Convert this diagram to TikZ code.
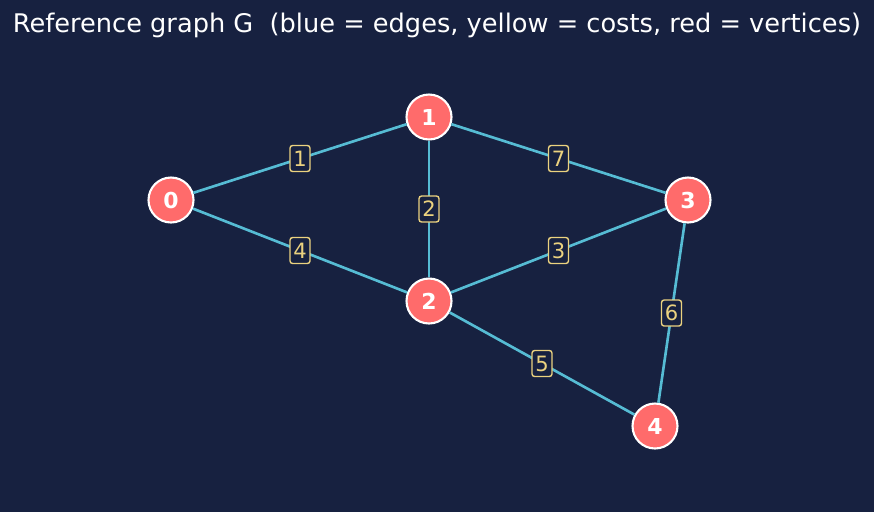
\documentclass[tikz,border=0pt]{standalone}
\usepackage{fontspec}
\setmainfont{DejaVu Sans}
\usepackage{xcolor}
\usepackage{tikz}
\definecolor{bgnavy}{HTML}{172140}
\definecolor{edgeblue}{HTML}{56BCD4}
\definecolor{vertred}{HTML}{FF6B6B}
\definecolor{costyellow}{HTML}{EBD27F}

\begin{document}
\begin{tikzpicture}[x=0.02cm, y=-0.02cm,
  vertex/.style={circle, fill=vertred, draw=white, line width=1.2pt,
    minimum size=0.9cm, inner sep=0pt, text=white, font=\fontsize{12.5}{14}\selectfont\bfseries},
  edge/.style={draw=edgeblue, line width=1.5pt},
  cost/.style={draw=costyellow, fill=bgnavy, text=costyellow, rounded corners=1.5pt,
    line width=0.8pt, inner sep=1.5pt, minimum height=0.52cm, minimum width=0.4cm,
    font=\fontsize{12}{14}\selectfont}]

% fundo
\fill[bgnavy] (0,0) rectangle (874,512);
\useasboundingbox (0,0) rectangle (874,512);

\node[text=white, font=\fontsize{14.6}{17}\selectfont] (title) at (437,25)
  {Reference graph G\ \ (blue = edges, yellow = costs, red = vertices)};

% vertices
\node[vertex] (v0) at (171,200) {0};
\node[vertex] (v1) at (429,117) {1};
\node[vertex] (v2) at (429,301) {2};
\node[vertex] (v3) at (688,200) {3};
\node[vertex] (v4) at (655,426) {4};

% arestas
\draw[edge] (v0) -- (v1) node[cost, midway] (c01) {1};
\draw[edge] (v0) -- (v2) node[cost, midway] (c02) {4};
\draw[edge] (v1) -- (v2) node[cost, midway] (c12) {2};
\draw[edge] (v1) -- (v3) node[cost, midway] (c13) {7};
\draw[edge] (v2) -- (v3) node[cost, midway] (c23) {3};
\draw[edge] (v2) -- (v4) node[cost, midway] (c24) {5};
\draw[edge] (v3) -- (v4) node[cost, midway] (c34) {6};

\end{tikzpicture}
\end{document}
